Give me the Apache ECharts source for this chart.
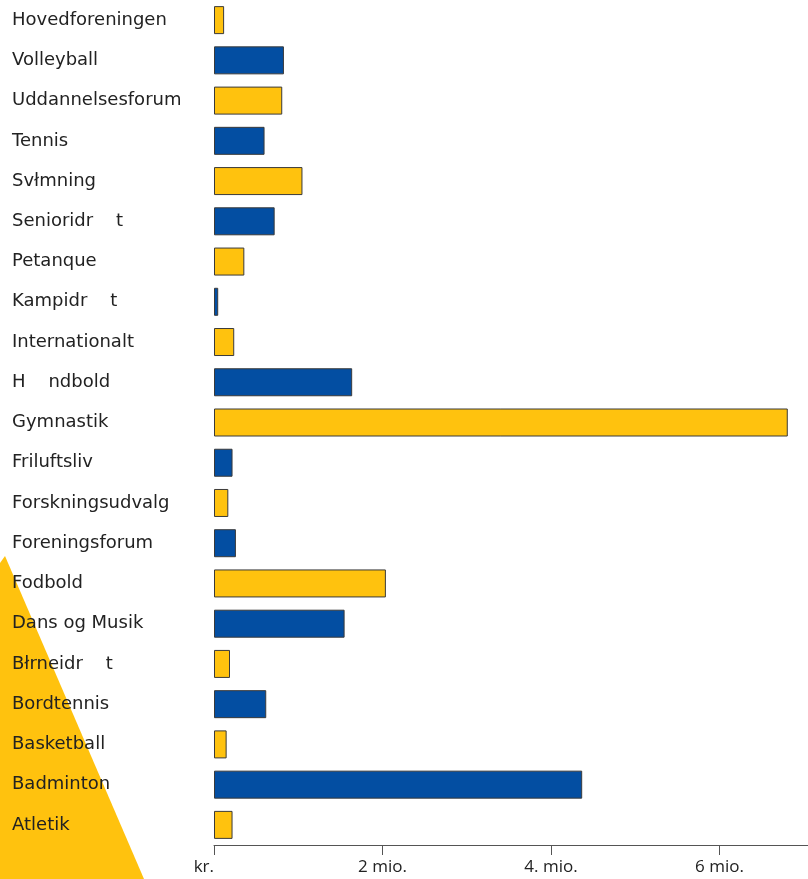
<!DOCTYPE html>
<html>
<head>
<meta charset="utf-8">
<script src="https://cdn.jsdelivr.net/npm/echarts@6/dist/echarts.min.js"></script>
<style>
html,body{margin:0;padding:0;background:#fff;}
#c{width:808px;height:879px;}
</style>
</head>
<body>
<div id="c"></div>
<script>
var categories = ["Hovedforeningen","Volleyball","Uddannelsesforum","Tennis","Svłmning","Senioridr    t","Petanque","Kampidr    t","Internationalt","H    ndbold","Gymnastik","Friluftsliv","Forskningsudvalg","Foreningsforum","Fodbold","Dans og Musik","Błrneidr    t","Bordtennis","Basketball","Badminton","Atletik"];
var values = [0.12,0.83,0.81,0.60,1.05,0.72,0.36,0.05,0.24,1.64,6.81,0.22,0.17,0.26,2.04,1.55,0.19,0.62,0.15,4.37,0.22];
var tickValues = [0,2,4,6];
var tickLabels = ["kr.","2 mio.","4. mio.","6 mio."];
var colorYellow = "#FFC20E";
var colorBlue = "#034EA2";

var chart = echarts.init(document.getElementById('c'));
var option = {
  animation:false,
  backgroundColor:'#fff',
  graphic:[{
    type:'polygon', z:-10, silent:true,
    shape:{points:[[0,563],[5,556],[144,879],[0,879]]},
    style:{fill:colorYellow}
  }],
  grid:{left:214,right:0,top:0,bottom:34,containLabel:false},
  xAxis:{
    type:'value', min:0, max:7.05, interval:2,
    splitLine:{show:false},
    axisLine:{show:true,lineStyle:{color:'#555',width:1}},
    axisTick:{show:true,length:10,inside:false,lineStyle:{color:'#555'}},
    axisLabel:{
      fontFamily:'Open Sans', fontSize:17, color:'#222', margin:14,
      showMaxLabel:false, alignMinLabel:'right',
      formatter:function(v){var i=tickValues.indexOf(v);return i>=0?tickLabels[i]:'';}
    }
  },
  yAxis:{
    type:'category', data:categories, inverse:true,
    axisLine:{show:false}, axisTick:{show:false}, splitLine:{show:false},
    axisLabel:{fontFamily:'DejaVu Sans', fontSize:18, color:'#222', align:'left', margin:202}
  },
  series:[{
    type:'bar',
    data:values.map(function(v,i){return {value:v,itemStyle:{color:i%2===0?colorYellow:colorBlue}};}),
    barWidth:28,
    itemStyle:{borderColor:'#3a3a3a',borderWidth:1}
  }]
};
chart.setOption(option);
</script>
</body>
</html>
